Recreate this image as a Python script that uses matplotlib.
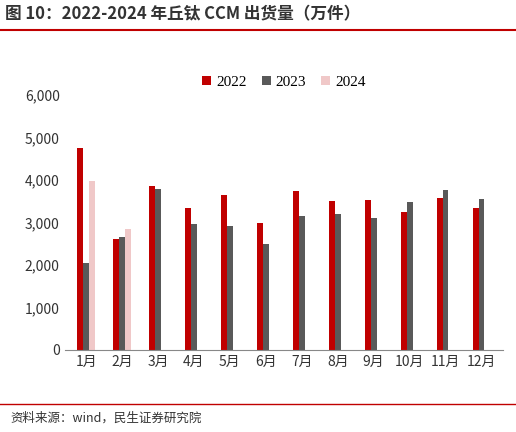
import matplotlib
matplotlib.use("Agg")
import matplotlib.pyplot as plt
import numpy as np

plt.rcParams['font.family'] = ['Noto Sans CJK SC', 'DejaVu Sans']

months = ["1月","2月","3月","4月","5月","6月","7月","8月","9月","10月","11月","12月"]
v2022 = [4760,2600,3860,3340,3650,2990,3740,3500,3530,3250,3580,3340]
v2023 = [2050,2660,3790,2960,2920,2490,3150,3200,3110,3480,3760,3550]
v2024 = [3980,2850,np.nan,np.nan,np.nan,np.nan,np.nan,np.nan,np.nan,np.nan,np.nan,np.nan]
years = ["2022","2023","2024"]
colors = ["#C00000","#595959","#F0C8C8"]

fig = plt.figure(figsize=(5.16,4.32), dpi=100)
ax = fig.add_axes([0.125, 0.19, 0.85, 0.59])
x = np.arange(len(months))
w = 0.16
for i,(vals,c,lab) in enumerate(zip([v2022,v2023,v2024],colors,years)):
    ax.bar(x+(i-1)*w, vals, w, color=c, label=lab)
ax.set_ylim(0,6000)
ax.set_yticks(range(0,6001,1000))
ax.set_yticklabels([f"{v:,}" for v in range(0,6001,1000)], fontsize=10, color="#333333")
ax.set_xticks(x)
ax.set_xticklabels(months, fontsize=10, color="#333333")
ax.set_xlim(-0.6,11.6)
for s in ["top","right","left"]:
    ax.spines[s].set_visible(False)
ax.spines["bottom"].set_color("#888888")
ax.tick_params(axis="y", length=0)
ax.tick_params(axis="x", length=0)
ax.legend(loc="upper center", bbox_to_anchor=(0.5,1.13), ncol=3, frameon=False,
          prop={"family":"Liberation Serif","size":11}, handlelength=0.6, handleheight=0.6,
          columnspacing=1.0, handletextpad=0.3)
fig.text(0.01, 0.955, "图 10：2022-2024 年丘钛 CCM 出货量（万件）", fontsize=12, fontweight="bold", color="#333333")
fig.add_artist(plt.Line2D([0.0,1.0],[0.93,0.93], color="#C00000", lw=1.5))
fig.add_artist(plt.Line2D([0.0,1.0],[0.065,0.065], color="#C00000", lw=1))
fig.text(0.02, 0.025, "资料来源：wind，民生证券研究院", fontsize=9, color="#333333")
fig.savefig("out.png", dpi=100)
